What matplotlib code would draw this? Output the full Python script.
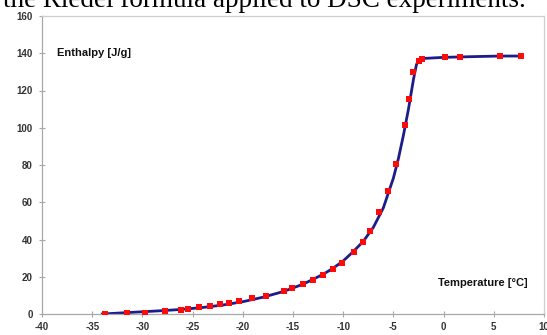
import matplotlib
matplotlib.use("Agg")
import matplotlib.pyplot as plt

temp = [-33.7, -31.5, -29.7, -27.7, -26.2, -25.5, -24.4, -23.3, -22.3, -21.4, -20.4,
        -19.1, -17.7, -15.9, -15.1, -14.0, -13.0, -12.0, -11.0, -10.1, -8.95, -8.0,
        -7.3, -6.4, -5.5, -4.7, -3.8, -3.4, -3.0, -2.5, -2.2, 0.1, 1.6, 5.6, 7.7]
enthalpy = [0.0, 0.4, 0.8, 1.5, 2.2, 2.7, 3.6, 4.5, 5.2, 5.9, 6.8,
            8.4, 9.8, 12.5, 13.8, 15.9, 18.3, 20.9, 24.3, 27.5, 33.3, 38.7,
            44.7, 54.9, 66.0, 80.5, 101.5, 115.6, 129.8, 136.0, 137.0, 137.8, 138.1, 138.5, 138.5]

# Riedel-formula fit curve
fit_temp = [-34.0, -32.0, -30.0, -28.0, -26.0, -24.0, -22.0, -20.0, -18.0, -16.0, -14.0,
            -12.0, -11.0, -10.0, -9.0, -8.0, -7.0, -6.0, -5.0, -4.5, -4.0, -3.5, -3.0,
            -2.7, -2.4, -2.0, 0.0, 3.0, 5.6, 7.7]
fit_enthalpy = [0.0, 0.6, 1.2, 1.8, 2.5, 3.5, 4.8, 6.6, 9.0, 12.0, 16.0,
                21.3, 24.6, 28.5, 33.5, 39.0, 46.5, 57.0, 73.0, 83.5, 96.0, 110.0, 126.0,
                134.0, 136.8, 137.2, 137.8, 138.2, 138.5, 138.5]

x_ticks = [-40, -35, -30, -25, -20, -15, -10, -5, 0, 5, 10]
y_ticks = [0, 20, 40, 60, 80, 100, 120, 140, 160]

fig = plt.figure(figsize=(5.47, 3.35), dpi=100)
fig.patch.set_facecolor("white")
ax = fig.add_axes([42 / 547, 21 / 335, 502 / 547, 298 / 335])

ax.plot(fit_temp, fit_enthalpy, color="#1c1c8a", lw=2.0, zorder=2)
ax.plot(temp, enthalpy, linestyle="none", marker="s", markersize=5,
        color="#ff0a0a", markeredgewidth=0, zorder=3)

ax.set_xlim(-40, 10)
ax.set_ylim(0, 160)
ax.set_xticks(x_ticks)
ax.set_yticks(y_ticks)
ax.set_xticklabels([str(v) for v in x_ticks])
ax.set_yticklabels([str(v) for v in y_ticks])

for s in ax.spines.values():
    s.set_color("#a8a8a8")
    s.set_linewidth(0.9)
ax.spines["top"].set_color("#cfcfcf")
ax.spines["right"].set_color("#d0d0d0")

ax.tick_params(axis="both", direction="inout", length=5, width=0.8, color="#a8a8a8",
               labelsize=7, labelcolor="#333333")
for lab in ax.get_xticklabels() + ax.get_yticklabels():
    lab.set_fontfamily("Liberation Sans")
    lab.set_fontweight("bold")
ax.tick_params(axis="x", pad=3)
ax.tick_params(axis="y", pad=4)

ax.text(0.03, 0.875, "Enthalpy [J/g]", transform=ax.transAxes, ha="left", va="center",
        fontsize=8, fontweight="bold", family="Liberation Sans", color="#111111")
ax.text(0.968, 0.104, "Temperature [°C]", transform=ax.transAxes, ha="right", va="center",
        fontsize=8, fontweight="bold", family="Liberation Sans", color="#111111")

fig.text(3 / 547, 1 - 7 / 335, "the Riedel formula applied to DSC experiments.",
         ha="left", va="baseline", fontsize=19.5, family="Liberation Serif", color="black")

fig.savefig("out.png", dpi=100)
